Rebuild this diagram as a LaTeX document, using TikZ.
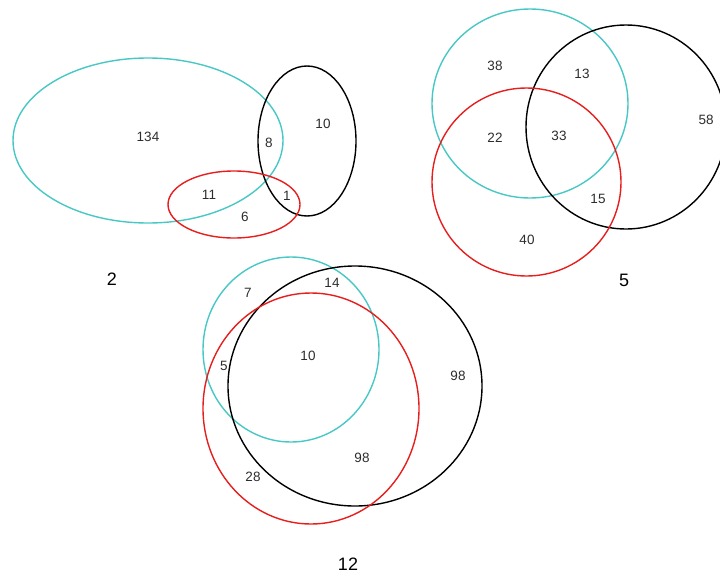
\documentclass[tikz,border=0pt]{standalone}
\usepackage{fontspec}
\setmainfont{Liberation Sans}
\begin{document}
\begin{tikzpicture}[x=1pt,y=-1pt,
  cyanline/.style={draw={rgb,255:red,72;green,200;blue,196},line width=1.4pt},
  redline/.style={draw={rgb,255:red,230;green,30;blue,30},line width=1.4pt},
  blackline/.style={draw=black,line width=1.4pt},
  num/.style={font=\fontsize{13.5}{15}\selectfont,text={rgb,255:red,45;green,45;blue,45},inner sep=0pt},
  lab/.style={font=\fontsize{18}{20}\selectfont,text=black,inner sep=0pt}]
\useasboundingbox (0,0) rectangle (720,573);
\clip (0,0) rectangle (720,573);
% diagram 2
\draw[cyanline] (148,140.5) ellipse [x radius=135,y radius=82.5];
\draw[blackline] (307,141) ellipse [x radius=49,y radius=75];
\draw[redline] (234,204.5) ellipse [x radius=66,y radius=33.5];
\node[num] (a1) at (148,137) {134};
\node[num] (a2) at (269,143) {8};
\node[num] (a3) at (323,124) {10};
\node[num] (a4) at (209,195) {11};
\node[num] (a5) at (287,196) {1};
\node[num] (a6) at (245,217) {6};
\node[lab] (l1) at (112,279) {2};
% diagram 5
\draw[cyanline] (530,103.5) ellipse [x radius=98,y radius=94.5];
\draw[blackline] (626,127) ellipse [x radius=100,y radius=102];
\draw[redline] (526.5,182) ellipse [x radius=94.5,y radius=94];
\node[num] (b1) at (495,66) {38};
\node[num] (b2) at (582,74) {13};
\node[num] (b3) at (495,138) {22};
\node[num] (b4) at (559,136) {33};
\node[num] (b5) at (706,120) {58};
\node[num] (b6) at (598,199) {15};
\node[num] (b7) at (527,240) {40};
\node[lab] (l2) at (624,280) {5};
% diagram 12
\draw[cyanline] (291,349.5) ellipse [x radius=88,y radius=92.5];
\draw[blackline] (355,386) ellipse [x radius=127,y radius=120];
\draw[redline] (311,408.5) ellipse [x radius=108,y radius=115.5];
\node[num] (c1) at (248,293) {7};
\node[num] (c2) at (332,283) {14};
\node[num] (c3) at (224,366) {5};
\node[num] (c4) at (308,356) {10};
\node[num] (c5) at (458,376) {98};
\node[num] (c6) at (362,458) {98};
\node[num] (c7) at (253,477) {28};
\node[lab] (l3) at (348,564) {12};
\end{tikzpicture}
\end{document}
